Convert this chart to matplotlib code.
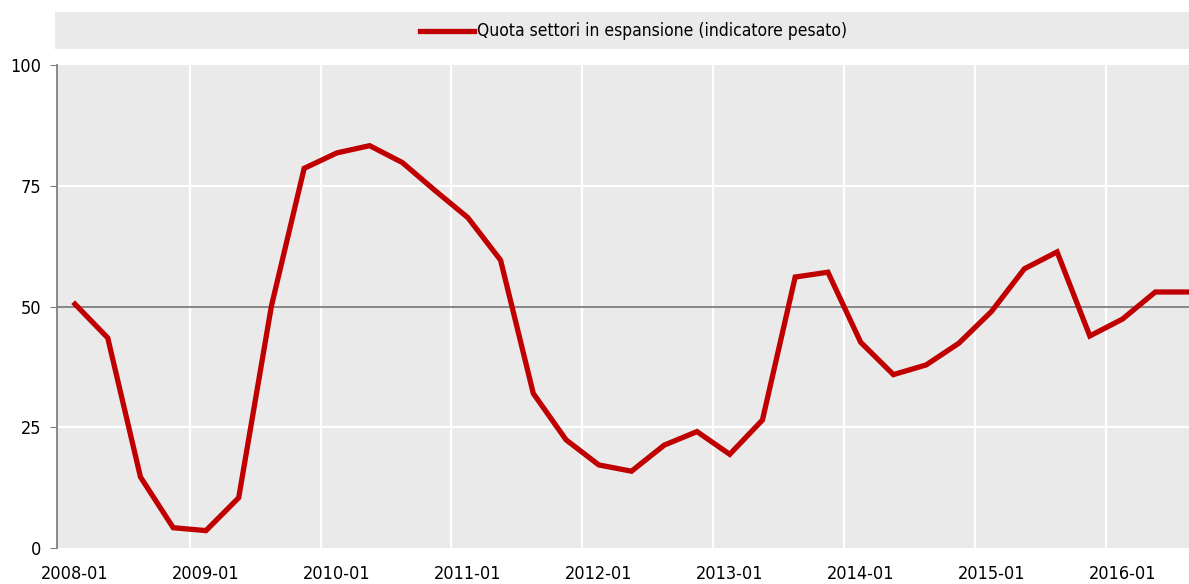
import matplotlib.pyplot as plt
from matplotlib.patches import Rectangle

# quarterly observations, 2008-01 .. 2016-07
periods = [f"{y}-{m:02d}" for y in range(2008, 2017) for m in (1, 4, 7, 10)][:35]
quota = [50.5, 43.5, 14.7, 4.2, 3.6, 10.4, 50.1, 78.6,
         81.8, 83.3, 79.8, 74.0, 68.4, 59.6, 32.0, 22.4,
         17.2, 15.9, 21.3, 24.1, 19.4, 26.5, 56.1, 57.1,
         42.6, 35.9, 37.9, 42.4, 49.0, 57.8, 61.3, 43.9,
         47.4, 53.0, 53.0]
series_label = "Quota settori in espansione (indicatore pesato)"
yticks = [0, 25, 50, 75, 100]

RED = '#c00000'
BG = '#eaeaea'

plt.rcParams['font.family'] = ['DejaVu Sans']
plt.rcParams['font.stretch'] = 'condensed'

fig = plt.figure(figsize=(11.89, 5.84), dpi=100)
ax = fig.add_axes([57 / 1189, 1 - 548 / 584, 1 - 57 / 1189, (548 - 65) / 584])
ax.set_facecolor(BG)

x = list(range(len(quota)))
ax.plot(x, quota, color=RED, lw=3.8, solid_joinstyle='miter', zorder=4)

# year separators and horizontal grid
for k in range(4, len(periods), 4):
    ax.axvline(k - 0.5, color='white', lw=1.6, zorder=1)
for v in (25, 75):
    ax.axhline(v, color='white', lw=1.6, zorder=1)
ax.axhline(50, color='#7f7f7f', lw=1.3, zorder=2)

ax.set_xlim(-0.55, len(quota) - 0.97)
ax.set_ylim(0, 100)
ax.set_yticks(yticks)
ax.set_xticks(x[::4])
ax.set_xticklabels(periods[::4])
ax.tick_params(axis='y', length=5, color='#808080', labelsize=13, pad=6)
ax.tick_params(axis='x', length=0, labelsize=13, pad=12)
for s in ('top', 'right', 'bottom'):
    ax.spines[s].set_visible(False)
ax.spines['left'].set_color('#808080')
ax.spines['left'].set_linewidth(1.3)

# legend band on top
fig.patches.append(Rectangle((55 / 1189, 1 - 49 / 584), 1 - 55 / 1189, 37 / 584,
                             transform=fig.transFigure, facecolor=BG, edgecolor='none'))
fig.add_artist(plt.Line2D([420 / 1189, 474 / 1189], [1 - 31 / 584] * 2,
                          color=RED, lw=3.8, transform=fig.transFigure))
fig.text(477 / 1189, 1 - 31 / 584, series_label, fontsize=12.5, va='center', ha='left')

fig.savefig('out.png', dpi=100)
